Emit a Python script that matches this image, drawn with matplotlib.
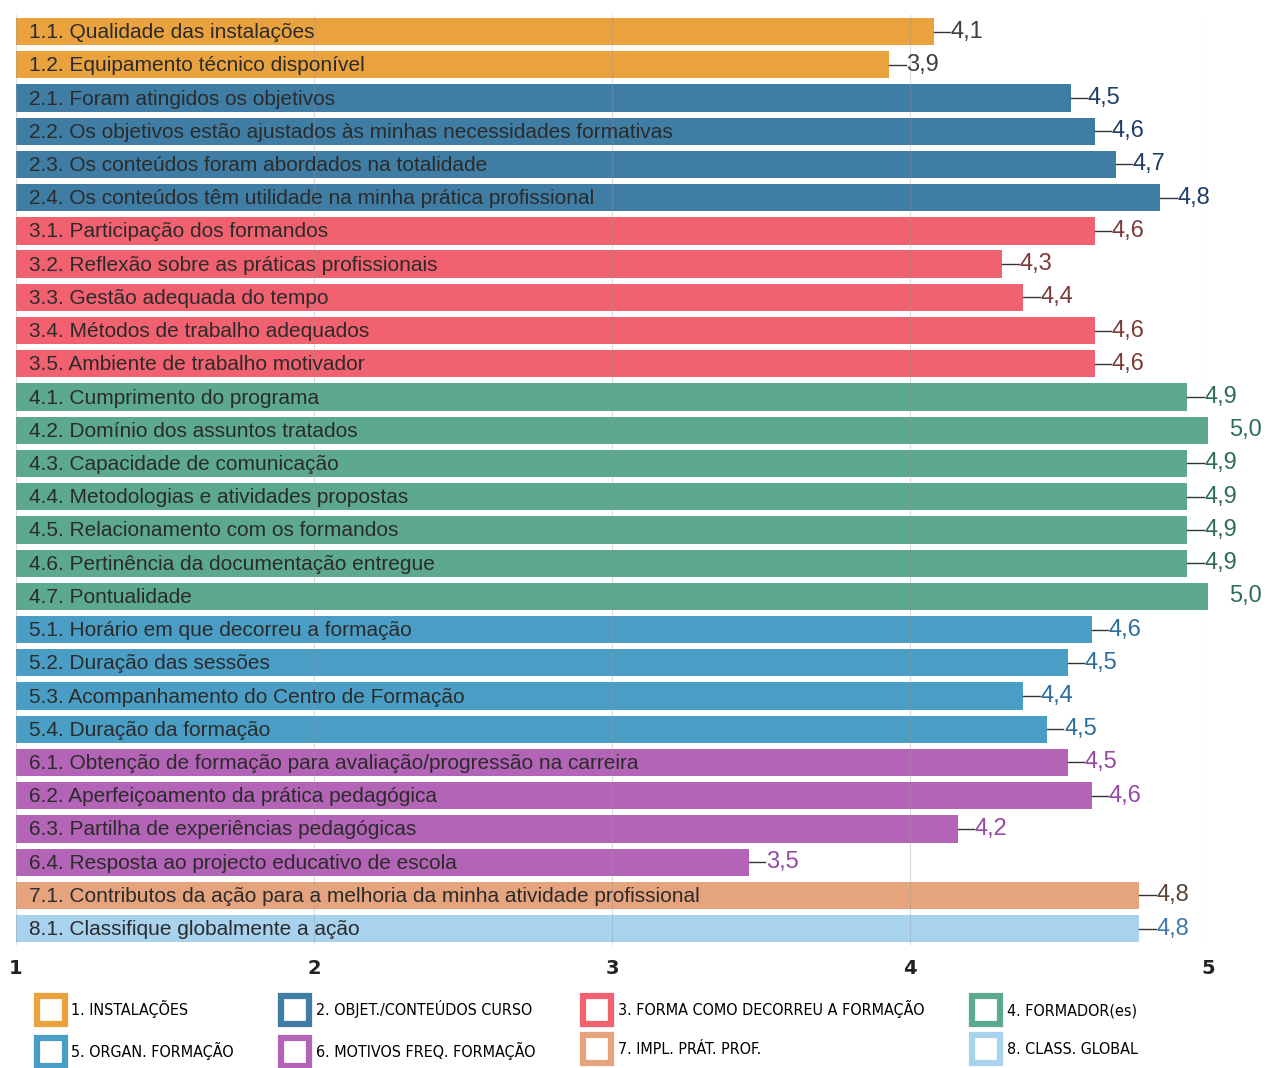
import matplotlib.pyplot as plt
from matplotlib.lines import Line2D

# item labels, group of each item and mean score
items = [
    "1.1. Qualidade das instalações",
    "1.2. Equipamento técnico disponível",
    "2.1. Foram atingidos os objetivos",
    "2.2. Os objetivos estão ajustados às minhas necessidades formativas",
    "2.3. Os conteúdos foram abordados na totalidade",
    "2.4. Os conteúdos têm utilidade na minha prática profissional",
    "3.1. Participação dos formandos",
    "3.2. Reflexão sobre as práticas profissionais",
    "3.3. Gestão adequada do tempo",
    "3.4. Métodos de trabalho adequados",
    "3.5. Ambiente de trabalho motivador",
    "4.1. Cumprimento do programa",
    "4.2. Domínio dos assuntos tratados",
    "4.3. Capacidade de comunicação",
    "4.4. Metodologias e atividades propostas",
    "4.5. Relacionamento com os formandos",
    "4.6. Pertinência da documentação entregue",
    "4.7. Pontualidade",
    "5.1. Horário em que decorreu a formação",
    "5.2. Duração das sessões",
    "5.3. Acompanhamento do Centro de Formação",
    "5.4. Duração da formação",
    "6.1. Obtenção de formação para avaliação/progressão na carreira",
    "6.2. Aperfeiçoamento da prática pedagógica",
    "6.3. Partilha de experiências pedagógicas",
    "6.4. Resposta ao projecto educativo de escola",
    "7.1. Contributos da ação para a melhoria da minha atividade profissional",
    "8.1. Classifique globalmente a ação",
]
groups = [1, 1, 2, 2, 2, 2, 3, 3, 3, 3, 3, 4, 4, 4, 4, 4, 4, 4,
          5, 5, 5, 5, 6, 6, 6, 6, 7, 8]
scores = [4.08, 3.93, 4.54, 4.62, 4.69, 4.84, 4.62, 4.31, 4.38, 4.62, 4.62,
          4.93, 5.0, 4.93, 4.93, 4.93, 4.93, 5.0,
          4.61, 4.53, 4.38, 4.46, 4.53, 4.61, 4.16, 3.46, 4.77, 4.77]

group_names = ["1. INSTALAÇÕES", "2. OBJET./CONTEÚDOS CURSO",
               "3. FORMA COMO DECORREU A FORMAÇÃO", "4. FORMADOR(es)",
               "5. ORGAN. FORMAÇÃO", "6. MOTIVOS FREQ. FORMAÇÃO",
               "7. IMPL. PRÁT. PROF.", "8. CLASS. GLOBAL"]
bar_colors = ["#E9A23E", "#3F7DA5", "#F1616F", "#5CA98D",
              "#4A9EC5", "#B464B7", "#E6A47E", "#A8D2EE"]
text_colors = ["#3f3f3f", "#1f3d66", "#7d3a3a", "#2f6b5c",
               "#2a6c9e", "#9548a5", "#5a4438", "#3f78ad"]

fig = plt.figure(figsize=(12.66, 10.68), dpi=100)
ax = fig.add_axes([0.0126, 0.115, 0.9416, 0.871])

for i, (lab, g, v) in enumerate(zip(items, groups, scores)):
    ax.barh(i, v - 1, left=1, height=0.82, color=bar_colors[g - 1], zorder=1)
    ax.text(1.045, i + 0.03, lab, va="center", ha="left", fontsize=15,
            family="Liberation Sans", color="#2b2b2b", zorder=3)
    txt = f"{v:.1f}".replace(".", ",")
    if v >= 4.99:
        ax.text(5.07, i, txt, va="center", ha="left", fontsize=17,
                family="Liberation Sans", color=text_colors[g - 1], clip_on=False)
    else:
        ax.plot([v, v + 0.055], [i, i], color="#333333", lw=1, clip_on=False, zorder=3)
        ax.text(v + 0.057, i, txt, va="center", ha="left", fontsize=17,
                family="Liberation Sans", color=text_colors[g - 1], clip_on=False)

ax.set_xlim(1, 5)
ax.set_ylim(len(items) - 0.5, -0.5)
ax.set_yticks([])
ax.set_xticks([1, 2, 3, 4, 5])
ax.set_xticklabels(["1", "2", "3", "4", "5"], fontsize=14, fontweight="bold",
                   family="DejaVu Sans", color="#222222")
ax.tick_params(axis="x", length=0, pad=10)
for x in [1, 2, 3, 4, 5]:
    ax.axvline(x, color="#999999", lw=0.8, alpha=0.35, zorder=2)
for s in ax.spines.values():
    s.set_visible(False)

# legend, filled column by column
order = [0, 4, 1, 5, 2, 6, 3, 7]
handles = [Line2D([], [], marker="s", linestyle="none", markersize=20,
                  markerfacecolor="white", markeredgecolor=bar_colors[k],
                  markeredgewidth=4.5) for k in order]
labels = [group_names[k] for k in order]
fig.legend(handles, labels, ncol=4, loc="upper left", bbox_to_anchor=(0.016, 0.077),
           frameon=False, columnspacing=2.85, handletextpad=0.3, labelspacing=1.5,
           prop={"family": "DejaVu Sans", "stretch": "condensed", "size": 11.5})

plt.savefig("out.png", dpi=100)
